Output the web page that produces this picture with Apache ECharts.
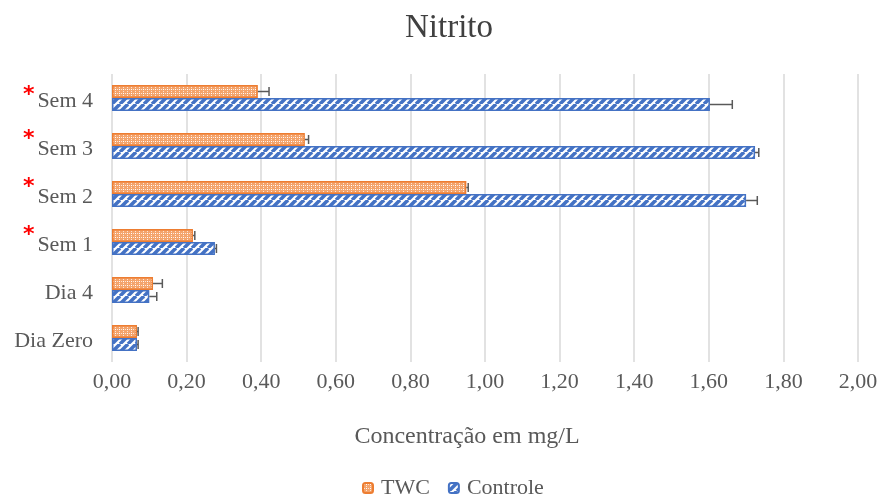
<!DOCTYPE html>
<html><head><meta charset="utf-8">
<script src="https://cdn.jsdelivr.net/npm/echarts@6/dist/echarts.min.js"></script>
<style>html,body{margin:0;padding:0;background:#fff}#c{width:882px;height:497px}</style>
</head><body><div id="c"></div>
<script>
const categories = ['Dia Zero','Dia 4','Sem 1','Sem 2','Sem 3','Sem 4'];
const starred = ['Sem 1','Sem 2','Sem 3','Sem 4'];
const twc = [0.067, 0.11, 0.217, 0.95, 0.517, 0.391];
const twcErr = [0.003, 0.025, 0.005, 0.005, 0.01, 0.03];
const controle = [0.067, 0.10, 0.276, 1.70, 1.724, 1.603];
const controleErr = [0.003, 0.02, 0.004, 0.03, 0.01, 0.06];
const xTicks = [0, 2, 0.2];

function bluePattern(){
  const c=document.createElement('canvas'); c.width=8; c.height=8;
  const g=c.getContext('2d');
  g.fillStyle='#ffffff'; g.fillRect(0,0,8,8);
  g.strokeStyle='#4472C4'; g.lineWidth=3.5;
  for(let k=-8;k<=16;k+=8){ g.beginPath(); g.moveTo(k,8); g.lineTo(k+8,0); g.stroke(); }
  return c;
}
function orangePattern(){
  const c=document.createElement('canvas'); c.width=4; c.height=4;
  const g=c.getContext('2d');
  g.fillStyle='#F4A46C'; g.fillRect(0,0,4,4);
  g.fillStyle='#FCE4D4'; g.fillRect(1,1,1,1); g.fillRect(3,3,1,1);
  g.fillStyle='#FFFFFF'; g.fillRect(3,1,1,1);
  return c;
}
const chart = echarts.init(document.getElementById('c'));
const BW = 13;
function errSeries(vals, errs, off, name){
  return {
    type:'custom', name: name, silent:true, z:5,
    data: vals.map((v,i)=>[v, i, errs[i]]),
    renderItem: function(params, api){
      const v=api.value(0), i=api.value(1), e=api.value(2);
      const p0=api.coord([v, i]); const p1=api.coord([v+e, i]);
      const y=p0[1]+off;
      return {type:'group', children:[
        {type:'line', shape:{x1:p0[0],y1:y,x2:p1[0],y2:y}, style:{stroke:'#595959',lineWidth:1.5}},
        {type:'line', shape:{x1:p1[0],y1:y-4.5,x2:p1[0],y2:y+4.5}, style:{stroke:'#595959',lineWidth:1.5}}
      ]};
    }
  };
}
const F = 'Liberation Serif';
chart.setOption({
  animation:false,
  title:{text:'Nitrito', left:405, top:12, padding:0, textStyle:{fontFamily:F, fontSize:33, fontWeight:'normal', color:'#404040'}},
  legend:{top:477, left:362, padding:0, itemWidth:10, itemHeight:10, itemGap:18, data:['TWC','Controle'],
    textStyle:{fontFamily:F, fontSize:22, color:'#595959', padding:[0,0,0,3]}},
  grid:{left:112, right:24, top:74, bottom:135},
  xAxis:{type:'value', min:xTicks[0], max:xTicks[1], interval:xTicks[2],
    name:'Concentração em mg/L', nameLocation:'middle', nameGap:63,
    nameTextStyle:{fontFamily:F, fontSize:24, color:'#595959', padding:[0,36,0,0]},
    axisLine:{show:false}, axisTick:{show:false},
    splitLine:{lineStyle:{color:'#D9D9D9', width:1.5}},
    axisLabel:{margin:9, fontFamily:F, fontSize:22, color:'#595959',
      formatter:v=>v.toFixed(2).replace('.',',')}},
  yAxis:{type:'category', data:categories, axisLine:{show:false}, axisTick:{show:false},
    axisLabel:{margin:19, fontFamily:F, fontSize:22, color:'#595959',
      formatter:v=> v==='Sem 4' ? '{s4|*}{n|'+v+'}' : (starred.includes(v) ? '{s|*}{n|'+v+'}' : '{n|'+v+'}'),
      rich:{ s:{fontFamily:'DejaVu Sans', fontSize:22, color:'#FF0000', fontWeight:'bold', verticalAlign:'top', padding:[0,3,14,0]},
             s4:{fontFamily:'DejaVu Sans', fontSize:22, color:'#FF0000', fontWeight:'bold', verticalAlign:'top', padding:[0,3,6,0]},
             n:{fontFamily:F, fontSize:22, color:'#595959', padding:[6,0,0,0]} }}},
  series:[
    {name:'TWC', type:'bar', data:twc, barWidth:BW, barGap:'0%',
      itemStyle:{color:{image:orangePattern(), repeat:'repeat'}, borderColor:'#ED7D31', borderWidth:1.5}},
    {name:'Controle', type:'bar', data:controle, barWidth:BW, barGap:'0%',
      itemStyle:{color:{image:bluePattern(), repeat:'repeat'}, borderColor:'#4472C4', borderWidth:1.5}},
    errSeries(twc, twcErr, -BW/2, 'errT'),
    errSeries(controle, controleErr, BW/2, 'errC')
  ]
});
</script></body></html>
